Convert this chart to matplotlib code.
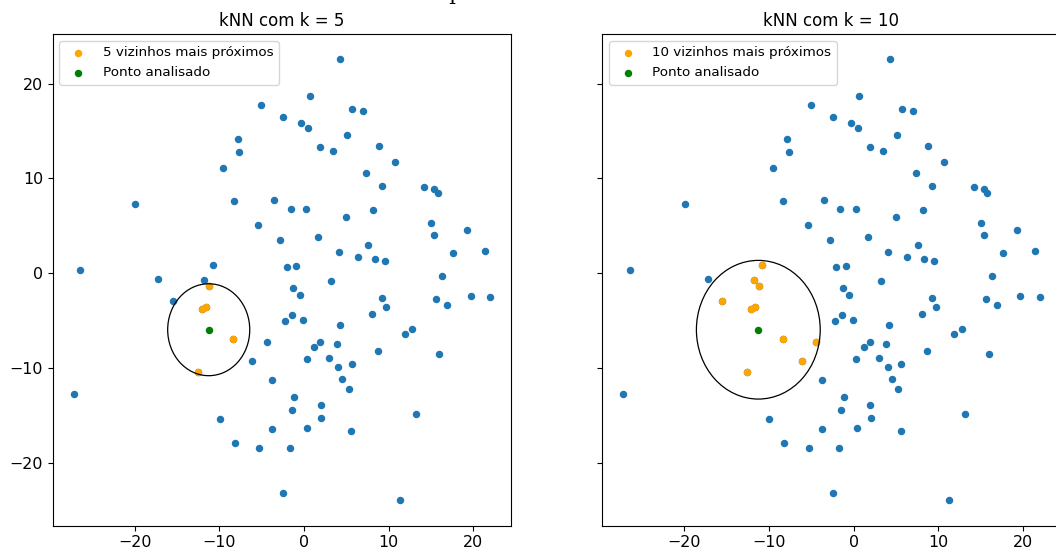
import numpy as np
import matplotlib
matplotlib.use("Agg")
import matplotlib.pyplot as plt
from matplotlib.font_manager import FontProperties

# ---- data -------------------------------------------------------------
pts_x = [-5.04, -2.45, -7.83, -7.64, -9.57, -19.93, -8.31, -3.51, -5.40, -2.80,
         -26.43, -10.79, -17.25, -11.81, 4.25, 0.67, 5.71, 7.01, -0.32, 0.51,
         5.08, 1.93, 3.43, 8.82, 10.71, 7.33, 9.21, 14.18, 15.36, 15.79,
         -1.57, 0.24, 5.00, 8.15, 15.04, 15.36, 19.26, 1.69, 4.10, 7.59,
         6.34, 8.35, 9.53, 17.60, 21.38, -2.05, -0.95, 16.34, 3.23, -1.30,
         -0.51, 9.21, 9.69, 15.63, 16.89, 19.69, 21.97, -2.24, -1.38, -0.12,
         4.22, 8.03, 11.90, 12.80, 1.22, 1.93, 3.86, 8.70, 15.99, 0.31,
         2.95, 4.02, 5.63, 4.53, 5.28, -1.18, -1.45, 1.97, 2.01, 13.19,
         0.39, 5.59, -1.69, -2.45, 11.30, -11.19, -15.51, -11.62, -12.09, -8.39,
         -12.56, -4.41, -6.14, -3.78, -27.21, -9.96, -3.74, -8.19, -5.32]
pts_y = [17.71, 16.45, 14.12, 12.82, 11.13, 7.30, 7.58, 7.69, 5.08, 3.53,
         0.37, 0.83, -0.56, -0.74, 22.56, 18.72, 17.32, 17.08, 15.84, 15.32,
         14.58, 13.28, 12.92, 13.38, 11.73, 10.60, 9.20, 9.06, 8.91, 8.49,
         6.74, 6.77, 5.93, 6.63, 5.26, 4.00, 4.56, 3.82, 2.27, 2.97,
         1.71, 1.50, 1.32, 2.13, 2.31, 0.65, 0.76, -0.26, -0.81, -1.56,
         -2.27, -2.62, -3.53, -2.72, -3.39, -2.41, -2.48, -5.07, -4.41, -4.90,
         -5.43, -4.34, -6.45, -5.92, -7.82, -7.29, -7.50, -8.17, -8.49, -9.05,
         -8.95, -9.89, -9.61, -11.19, -12.25, -13.02, -14.47, -13.90, -15.31, -14.82,
         -16.30, -16.61, -18.41, -23.19, -23.96, -1.35, -2.93, -3.53, -3.81, -6.97,
         -10.39, -7.22, -9.26, -11.23, -12.71, -15.38, -16.43, -17.88, -18.47]
query_point = (-11.26, -5.96)
k_values = [5, 10]
circle_factor = 1.05

titles = ["kNN com k = 5", "kNN com k = 10"]
neighbor_labels = ["5 vizinhos mais próximos", "10 vizinhos mais próximos"]
query_label = "Ponto analisado"
suptitle_text = "Exemplo de kNN"

# ---- figure -----------------------------------------------------------
W, H = 1056, 549
fig = plt.figure(figsize=(W / 100, H / 100), dpi=100)

ax_bottom = (H - 525.7) / H
ax_height = (525.7 - 34.3) / H
ax_width = 458.3 / W
ax1 = fig.add_axes([52.7 / W, ax_bottom, ax_width, ax_height])
ax2 = fig.add_axes([602.3 / W, ax_bottom, ax_width, ax_height], sharey=ax1)

px = np.array(pts_x)
py = np.array(pts_y)
dist = np.hypot(px - query_point[0], py - query_point[1])
order = np.argsort(dist)

for ax, k, title, nlab in zip([ax1, ax2], k_values, titles, neighbor_labels):
    ax.scatter(px, py, s=19, color="#1f77b4", zorder=2)
    idx = order[:k]
    ax.scatter(px[idx], py[idx], s=19, color="orange", label=nlab, zorder=3)
    ax.scatter([query_point[0]], [query_point[1]], s=19, color="green",
               label=query_label, zorder=4)
    r = dist[idx].max() * circle_factor
    circ = plt.Circle(query_point, r, fill=False, color="black", lw=0.9, zorder=3)
    ax.add_patch(circ)
    ax.set_title(title, fontsize=12)
    ax.set_xlim(-29.69, 24.45)
    ax.set_ylim(-26.63, 25.2)
    ax.set_xticks([-20, -10, 0, 10, 20])
    ax.set_yticks([-20, -10, 0, 10, 20])
    ax.tick_params(labelsize=11.4)
    ax.legend(loc="upper left", fontsize=9.7)

ax2.tick_params(labelleft=False)

# suptitle, mostly outside the (cropped) canvas: only the descender of "p" shows
fp = FontProperties(family="DejaVu Serif", size=15)
renderer = fig.canvas.get_renderer()
pre_w, _, _ = renderer.get_text_width_height_descent("Exem", fp, ismath=False)
em = 15 * 100 / 72
x_left = 453.5 - pre_w - 0.19 * em
fig.text(x_left / W, 1.0, suptitle_text, fontproperties=fp,
         ha="left", va="baseline")

fig.savefig("out.png", dpi=100)
